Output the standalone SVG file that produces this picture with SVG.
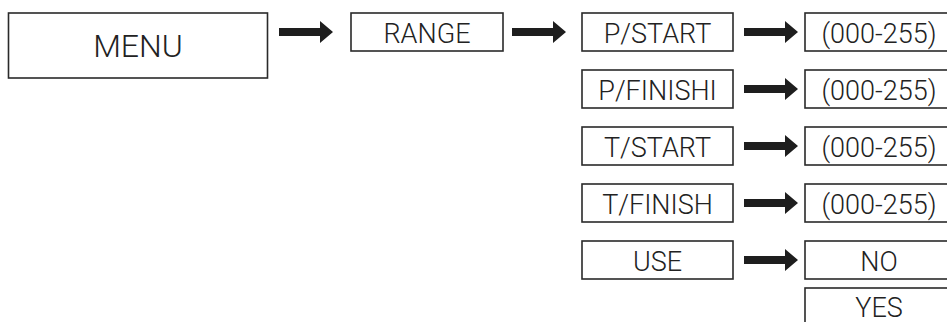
<svg xmlns="http://www.w3.org/2000/svg" xmlns:xlink="http://www.w3.org/1999/xlink" width="947" height="322" viewBox="0 0 947 322">
<style>
.box{fill:#fff;stroke:#2a2a2a;stroke-width:1.6}
.t{font-family:Roboto,"Liberation Sans",Arial,sans-serif;font-weight:300;font-size:27px;fill:#222;text-anchor:middle}
.big{font-size:32px}
.arr{fill:#1e1e1e}
</style>
<defs>
<path id="arrow" d="M0,-4 H41 V-11 L54,0 L41,11 V4 H0 Z"/>
</defs>
<rect width="947" height="322" fill="#fff"/>
<g id="connectors" class="arr">
<use xlink:href="#arrow" href="#arrow" x="279" y="32"/>
<use xlink:href="#arrow" href="#arrow" x="512" y="32"/>
<use xlink:href="#arrow" href="#arrow" x="744" y="32"/>
<use xlink:href="#arrow" href="#arrow" x="744" y="89"/>
<use xlink:href="#arrow" href="#arrow" x="744" y="146"/>
<use xlink:href="#arrow" href="#arrow" x="744" y="203"/>
<use xlink:href="#arrow" href="#arrow" x="744" y="260"/>
</g>
<g id="menu"><rect class="box" x="8.5" y="13" width="259" height="65"/><text class="t big" x="138" y="57">MENU</text></g>
<g id="range"><rect class="box" x="351" y="13" width="152" height="38"/><text class="t" x="427" y="43">RANGE</text></g>
<g id="pstart"><rect class="box" x="582" y="13" width="151" height="38"/><text class="t" x="657.5" y="43">P/START</text></g>
<g id="pfinish"><rect class="box" x="582" y="70" width="151" height="38"/><text class="t" x="657.5" y="100">P/FINISHI</text></g>
<g id="tstart"><rect class="box" x="582" y="127" width="151" height="38"/><text class="t" x="657.5" y="157">T/START</text></g>
<g id="tfinish"><rect class="box" x="582" y="184" width="151" height="38"/><text class="t" x="657.5" y="214">T/FINISH</text></g>
<g id="use"><rect class="box" x="582" y="241" width="151" height="38"/><text class="t" x="657.5" y="271">USE</text></g>
<g id="v1"><rect class="box" x="805" y="13" width="160" height="38"/><text class="t" x="879" y="43">(000-255)</text></g>
<g id="v2"><rect class="box" x="805" y="70" width="160" height="38"/><text class="t" x="879" y="100">(000-255)</text></g>
<g id="v3"><rect class="box" x="805" y="127" width="160" height="38"/><text class="t" x="879" y="157">(000-255)</text></g>
<g id="v4"><rect class="box" x="805" y="184" width="160" height="38"/><text class="t" x="879" y="214">(000-255)</text></g>
<g id="no"><rect class="box" x="805" y="241" width="160" height="38"/><text class="t" x="879" y="271">NO</text></g>
<g id="yes"><rect class="box" x="805" y="288" width="160" height="40"/><text class="t" x="879" y="317">YES</text></g>
</svg>
